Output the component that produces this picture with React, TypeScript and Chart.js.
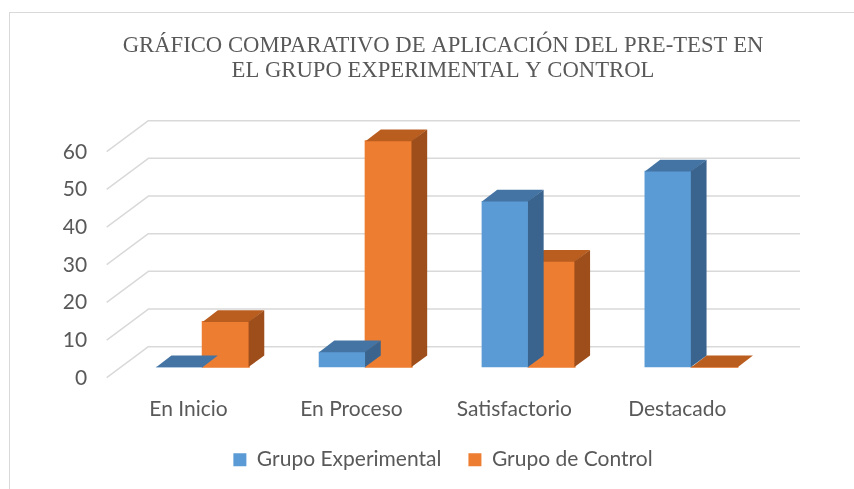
import React, { useEffect, useRef } from "react";
import { Chart, registerables } from "chart.js";

Chart.register(...registerables);

// ---- data ----
const categories = ["En Inicio", "En Proceso", "Satisfactorio", "Destacado"];
const grupoExperimental = [0, 4, 44, 52];
const grupoControl = [12, 60, 28, 0];
const yTicks = [0, 10, 20, 30, 40, 50, 60];
const seriesNames = ["Grupo Experimental", "Grupo de Control"];
const titleLines = [
  "GRÁFICO COMPARATIVO DE APLICACIÓN DEL PRE-TEST EN",
  "EL GRUPO EXPERIMENTAL Y CONTROL",
];

// ---- styles ----
const frontColors = ["#5B9BD5", "#ED7D31"];
const topColors = ["#4474A3", "#BA5E20"];
const sideColors = ["#3A648E", "#9E4E1A"];
const TEXT = "#595959";
const GRID = "#d9d9d9";
const SANS = "Lato, 'Open Sans', sans-serif";
const SERIF = "'Liberation Serif', 'Times New Roman', serif";

// 3D offsets relative to the bar front plane
const FLOOR_FRONT = { dx: -14.4, dy: 10.7 };
const WALL_BACK = { dx: 27.3, dy: -20.3 };
const BAR_DEPTH = { dx: 15.3, dy: -11.5 };

const CANVAS_W = 866;
const CANVAS_H = 480;

const gridPlugin = {
  id: "grid3d",
  beforeDatasetsDraw(chart: any) {
    const { ctx, chartArea, scales } = chart;
    const y = scales.y;
    ctx.save();
    ctx.strokeStyle = GRID;
    ctx.lineWidth = 1.5;
    ctx.lineJoin = "round";
    for (const v of yTicks) {
      const py = y.getPixelForValue(v);
      ctx.beginPath();
      ctx.moveTo(chartArea.left + FLOOR_FRONT.dx, py + FLOOR_FRONT.dy);
      ctx.lineTo(chartArea.left + WALL_BACK.dx, py + WALL_BACK.dy);
      ctx.lineTo(chartArea.right + WALL_BACK.dx, py + WALL_BACK.dy);
      ctx.stroke();
    }
    ctx.restore();
  },
};

const barsPlugin = {
  id: "bars3d",
  afterDatasetDraw(chart: any, args: any) {
    const { ctx } = chart;
    const idx = args.index;
    const meta = args.meta;
    ctx.save();
    meta.data.forEach((bar: any) => {
      const { x, y, base, width } = bar.getProps(["x", "y", "base", "width"], true);
      const l = x - width / 2;
      const r = x + width / 2;
      const { dx, dy } = BAR_DEPTH;
      // top face
      ctx.fillStyle = topColors[idx];
      ctx.beginPath();
      ctx.moveTo(l, y + 0.3);
      ctx.lineTo(r, y + 0.3);
      ctx.lineTo(r + dx, y + dy);
      ctx.lineTo(l + dx, y + dy);
      ctx.closePath();
      ctx.fill();
      // side face
      if (base - y > 0.5) {
        ctx.fillStyle = sideColors[idx];
        ctx.beginPath();
        ctx.moveTo(r - 0.4, y);
        ctx.lineTo(r + dx, y + dy);
        ctx.lineTo(r + dx, base + dy);
        ctx.lineTo(r - 0.4, base);
        ctx.closePath();
        ctx.fill();
      }
    });
    ctx.restore();
  },
};

export default function App() {
  const ref = useRef<HTMLCanvasElement | null>(null);

  useEffect(() => {
    if (!ref.current) return;
    const chart = new Chart(ref.current, {
      type: "bar",
      data: {
        labels: categories,
        datasets: [
          {
            label: seriesNames[0],
            data: grupoExperimental,
            backgroundColor: frontColors[0],
            borderWidth: 0,
            inflateAmount: 0.3,
            clip: false as any,
          },
          {
            label: seriesNames[1],
            data: grupoControl,
            backgroundColor: frontColors[1],
            borderWidth: 0,
            inflateAmount: 0.8,
            clip: false as any,
          },
        ],
      },
      options: {
        responsive: false,
        animation: false,
        devicePixelRatio: 1,
        layout: { padding: { left: 0, right: 0, top: 0, bottom: 12.8 } },
        datasets: {
          bar: { barPercentage: 1, categoryPercentage: 0.57 },
        },
        scales: {
          x: {
            grid: { display: false, drawTicks: false },
            border: { display: false },
            ticks: {
              color: TEXT,
              font: { family: SANS, size: 21 },
              padding: 30,
              labelOffset: -14,
              maxRotation: 0,
              autoSkip: false,
            },
            afterFit: (s: any) => {
              s.height = 55.2;
            },
          },
          y: {
            min: 0,
            max: 60,
            grid: { display: false, drawTicks: false },
            border: { display: false },
            ticks: {
              stepSize: 10,
              color: TEXT,
              font: { family: SANS, size: 21 },
              padding: 34,
              labelOffset: 11,
            },
            afterFit: (s: any) => {
              s.width = 111.1;
            },
          },
          y2: {
            position: "right",
            display: true,
            grid: { display: false, drawTicks: false },
            border: { display: false },
            ticks: { display: false },
            afterFit: (s: any) => {
              s.width = 103.3;
            },
          },
        },
        plugins: {
          title: {
            display: true,
            text: titleLines,
            color: TEXT,
            font: { family: SERIF, size: 22.7, weight: "normal", lineHeight: 1.132 },
            padding: { top: 19.75, bottom: 56.85 },
          },
          legend: {
            display: true,
            position: "bottom",
            labels: {
              color: TEXT,
              font: { family: SANS, size: 21 },
              boxWidth: 13,
              boxHeight: 13,
              padding: 27,
            },
          },
          tooltip: { enabled: false },
        },
      },
      plugins: [gridPlugin, barsPlugin],
    });
    return () => chart.destroy();
  }, []);

  return (
    <div
      style={{
        position: "fixed",
        left: 0,
        top: 0,
        width: 854,
        height: 489,
        overflow: "hidden",
        background: "#ffffff",
      }}
    >
      <div
        style={{
          position: "absolute",
          left: 8.5,
          top: 11.5,
          width: 900,
          height: 520,
          border: "1.5px solid #d9d9d9",
        }}
      />
      <canvas
        ref={ref}
        width={CANVAS_W}
        height={CANVAS_H}
        style={{
          position: "absolute",
          left: 10,
          top: 13,
          width: CANVAS_W,
          height: CANVAS_H,
        }}
      />
    </div>
  );
}
